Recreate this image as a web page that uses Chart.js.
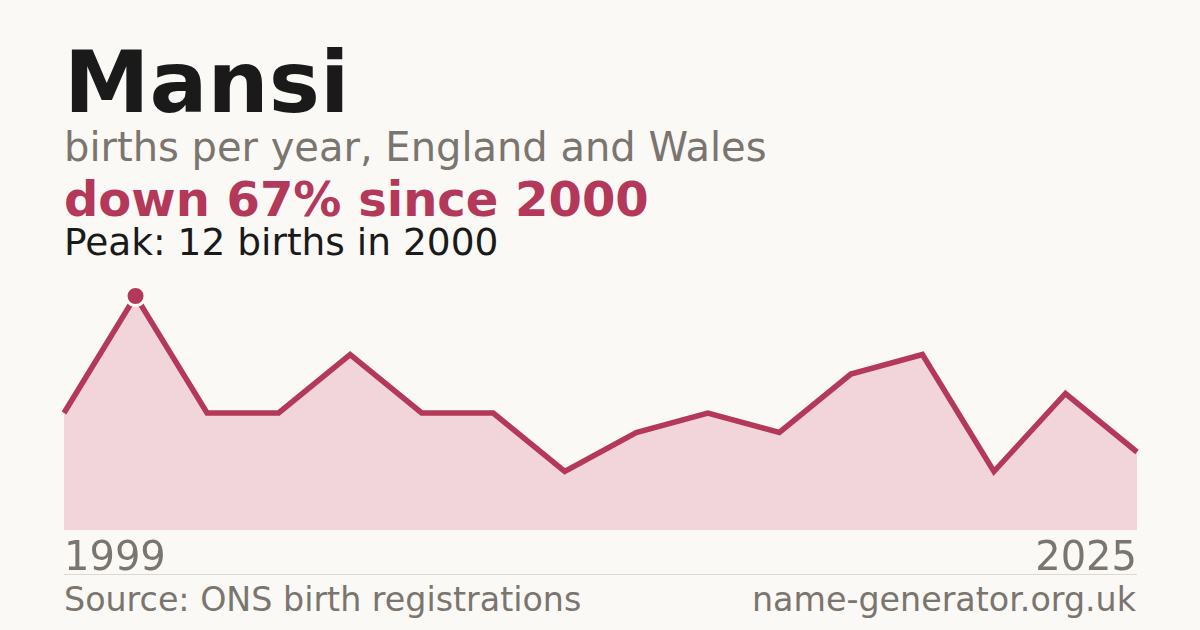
<!DOCTYPE html>
<html>
<head>
<meta charset="utf-8">
<script src="https://cdn.jsdelivr.net/npm/chart.js@4.4.1/dist/chart.umd.min.js"></script>
<style>
  html,body{margin:0;padding:0;background:#faf9f5;}
  body{width:1200px;height:630px;position:relative;overflow:hidden;font-family:"DejaVu Sans",sans-serif;}
  .t{position:absolute;left:64px;white-space:nowrap;line-height:1;}
  #title{top:39px;font-size:86px;font-weight:bold;color:#1a1a1a;}
  #sub{top:127px;font-size:40px;color:#7a756e;}
  #delta{top:175px;font-size:48px;font-weight:bold;color:#b3385a;}
  #peak{top:224px;font-size:37.5px;color:#1a1a1a;}
  #sep{position:absolute;left:64px;top:574px;width:1073px;height:1px;background:#dcd9d3;}
  #src{top:583px;font-size:33.3px;color:#7a756e;}
  #site{position:absolute;right:64px;top:583px;font-size:33.3px;color:#7a756e;line-height:1;white-space:nowrap;}
  #wrap{position:absolute;left:44px;top:276px;width:1113px;height:300px;}
</style>
</head>
<body>
<div class="t" id="title">Mansi</div>
<div class="t" id="sub">births per year, England and Wales</div>
<div class="t" id="delta">down 67% since 2000</div>
<div class="t" id="peak">Peak: 12 births in 2000</div>
<div id="wrap"><canvas id="c" width="1113" height="300"></canvas></div>
<div id="sep"></div>
<div class="t" id="src">Source: ONS birth registrations</div>
<div id="site">name-generator.org.uk</div>
<script>
const years = ["1999","2000","2002","2004","2005","2007","2009","2010","2012","2014","2015","2017","2019","2021","2023","2025"];
const births = [6,12,6,6,9,6,6,3,5,6,5,8,9,3,7,4];
const peakIndex = births.indexOf(Math.max(...births));
const red = '#b3385a';
const bg = '#faf9f5';

new Chart(document.getElementById('c'), {
  type: 'line',
  data: {
    labels: years,
    datasets: [{
      data: births,
      borderColor: red,
      borderWidth: 5.5,
      backgroundColor: '#f2d5da',
      fill: 'origin',
      tension: 0,
      clip: false,
      pointRadius: births.map((v,i)=> i===peakIndex ? 9.5 : 0),
      pointBackgroundColor: red,
      pointBorderColor: bg,
      pointBorderWidth: 3,
      pointHoverRadius: 0
    }]
  },
  options: {
    responsive: false,
    animation: false,
    devicePixelRatio: 1,
    layout: { padding: { left: 20, right: 20, top: 20, bottom: 0 } },
    plugins: { legend: { display: false }, tooltip: { enabled: false } },
    scales: {
      y: { display: false, min: 0, max: 12 },
      x: {
        offset: false,
        grid: { display: false, drawTicks: false },
        border: { display: false },
        ticks: {
          autoSkip: false,
          maxRotation: 0,
          align: 'inner',
          padding: 6,
          color: '#7a756e',
          font: { family: 'DejaVu Sans', size: 40 },
          callback: function(v, i, arr){ return (i===0 || i===arr.length-1) ? this.getLabelForValue(v) : ''; }
        },
        afterFit: function(s){ s.height = 46; }
      }
    }
  }
});
</script>
</body>
</html>
